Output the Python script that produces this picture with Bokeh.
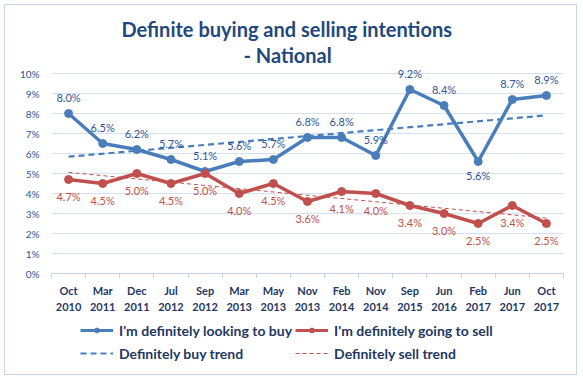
import numpy as np
from bokeh.plotting import figure
from bokeh.layouts import column
from bokeh.models import (ColumnDataSource, FixedTicker, LabelSet, Legend,
                          LegendItem, Range1d, Title)
from bokeh.core.properties import value
from bokeh.embed import file_html
from bokeh.resources import INLINE

# ---- data ----
months = ["Oct", "Mar", "Dec", "Jul", "Sep", "Mar", "May", "Nov", "Feb", "Nov",
          "Sep", "Jun", "Feb", "Jun", "Oct"]
years = ["2010", "2011", "2011", "2012", "2012", "2013", "2013", "2013", "2014",
         "2014", "2015", "2016", "2017", "2017", "2017"]
buy = [8.0, 6.5, 6.2, 5.7, 5.1, 5.6, 5.7, 6.8, 6.8, 5.9, 9.2, 8.4, 5.6, 8.7, 8.9]
sell = [4.7, 4.5, 5.0, 4.5, 5.0, 4.0, 4.5, 3.6, 4.1, 4.0, 3.4, 3.0, 2.5, 3.4, 2.5]
buy_labels_below = ["Feb 2017"]
y_ticks = [0, 1, 2, 3, 4, 5, 6, 7, 8, 9, 10]
y_tick_labels = ["0%", "1%", "2%", "3%", "4%", "5%", "6%", "7%", "8%", "9%", "10%"]

title_line1 = "Definite buying and selling intentions"
title_line2 = "- National"
legend_names = ["I'm definitely looking to buy", "I'm definitely going to sell",
                "Definitely buy trend", "Definitely sell trend"]

# ---- derived ----
n = len(buy)
cats = [f"{m} {y}" for m, y in zip(months, years)]
xc = [i + 0.5 for i in range(n)]
idx = np.arange(n)
bfit = np.polyfit(idx, buy, 1)
sfit = np.polyfit(idx, sell, 1)
trend_x = [xc[0], xc[-1]]
buy_trend = [float(np.polyval(bfit, 0)), float(np.polyval(bfit, n - 1))]
sell_trend = [float(np.polyval(sfit, 0)), float(np.polyval(sfit, n - 1))]

BLUE = "#4A7EBB"
RED = "#C0504D"
BLUE_TXT = "#2F5597"
NAVY = "#1F3864"
TITLE = "#1F497D"
GRID = "#D5E0F0"
AXIS = "#C3D3EA"
FONT = "Lato"

p = figure(width=571, height=313, x_range=Range1d(0, n), y_range=Range1d(0, 10.35),
           output_backend="svg", toolbar_location=None,
           min_border_left=46, min_border_right=13, min_border_top=61,
           min_border_bottom=45)
p.outline_line_color = None
p.background_fill_color = "white"
p.border_fill_color = "white"

# title (two lines)
p.title.text = title_line1
p.title.align = "left"
p.title.offset = 70
p.title.text_font = FONT
p.title.text_font_style = "bold"
p.title.text_font_size = "20px"
p.title.text_color = TITLE
p.title.standoff = 1
t2 = Title(text=title_line2, align="left", offset=192, text_font=FONT,
           text_font_style="bold", text_font_size="20px", text_color=TITLE,
           standoff=-1)
p.add_layout(t2, "above")

# axes
p.xaxis.ticker = FixedTicker(ticks=xc, minor_ticks=list(range(n + 1)))
p.xaxis.major_label_overrides = {x: f"{m}\n{y}" for x, m, y in zip(xc, months, years)}
p.xaxis.axis_line_color = AXIS
p.xaxis.major_tick_out = 0
p.xaxis.major_tick_in = 0
p.xaxis.minor_tick_out = 5
p.xaxis.minor_tick_in = 0
p.xaxis.minor_tick_line_color = AXIS
p.xaxis.major_label_text_font = FONT
p.xaxis.major_label_text_font_style = "bold"
p.xaxis.major_label_text_font_size = "11px"
p.xaxis.major_label_text_color = NAVY
p.xaxis.major_label_text_line_height = 1.25
p.xaxis.major_label_standoff = 5

p.yaxis.ticker = FixedTicker(ticks=y_ticks)
p.yaxis.major_label_overrides = {t: l for t, l in zip(y_ticks, y_tick_labels)}
p.yaxis.axis_line_color = None
p.yaxis.major_tick_out = 0
p.yaxis.major_tick_in = 0
p.yaxis.minor_tick_line_color = None
p.yaxis.major_label_text_font = FONT
p.yaxis.major_label_text_font_size = "10px"
p.yaxis.major_label_text_color = BLUE_TXT
p.yaxis.major_label_standoff = 12

p.xgrid.visible = False
p.ygrid.ticker = FixedTicker(ticks=y_ticks)
p.ygrid.grid_line_color = GRID

# series
line_styles = dict(
    buy_trend=dict(line_color=BLUE, line_width=2.2, line_dash="6 4"),
    sell_trend=dict(line_color=RED, line_width=1, line_dash="4 3"),
    buy=dict(line_color=BLUE, line_width=3.5),
    sell=dict(line_color=RED, line_width=3.5),
)
p.line(trend_x, buy_trend, **line_styles["buy_trend"])
p.line(trend_x, sell_trend, **line_styles["sell_trend"])
p.line(xc, buy, **line_styles["buy"])
p.scatter(xc, buy, size=8, fill_color=BLUE, line_color=BLUE)
p.line(xc, sell, **line_styles["sell"])
p.scatter(xc, sell, size=8, fill_color=RED, line_color=RED)

# data labels
def fmt(v):
    return f"{v:.1f}%"

above = ColumnDataSource(dict(
    x=[x for x, c in zip(xc, cats) if c not in buy_labels_below],
    y=[v for v, c in zip(buy, cats) if c not in buy_labels_below],
    t=[fmt(v) for v, c in zip(buy, cats) if c not in buy_labels_below]))
below = ColumnDataSource(dict(
    x=[x for x, c in zip(xc, cats) if c in buy_labels_below],
    y=[v for v, c in zip(buy, cats) if c in buy_labels_below],
    t=[fmt(v) for v, c in zip(buy, cats) if c in buy_labels_below]))
sellsrc = ColumnDataSource(dict(x=xc, y=sell, t=[fmt(v) for v in sell]))

common = dict(text_align="center", text_baseline="middle", text_font=value(FONT),
              text_font_size="11px")
p.add_layout(LabelSet(x="x", y="y", text="t", source=above, y_offset=16,
                      text_color=BLUE_TXT, **common))
p.add_layout(LabelSet(x="x", y="y", text="t", source=below, y_offset=-14,
                      text_color=BLUE_TXT, **common))
p.add_layout(LabelSet(x="x", y="y", text="t", source=sellsrc, y_offset=-17,
                      text_color=RED, **common))

# ---- legend strip (its renderers lie outside its visible range) ----
lf = figure(width=571, height=56, x_range=Range1d(0, 1), y_range=Range1d(0, 1),
            output_backend="svg", toolbar_location=None,
            x_axis_type=None, y_axis_type=None, min_border=0)
lf.outline_line_color = None
lf.grid.visible = False
lf.border_fill_color = "white"
r_bl = lf.line(xc, buy, line_color=BLUE, line_width=3)
r_bs = lf.scatter(xc, buy, size=6, fill_color=BLUE, line_color=BLUE)
r_sl = lf.line(xc, sell, line_color=RED, line_width=3)
r_ss = lf.scatter(xc, sell, size=6, fill_color=RED, line_color=RED)
r_bt = lf.line(trend_x, buy_trend, **line_styles["buy_trend"])
r_st = lf.line(trend_x, sell_trend, **line_styles["sell_trend"])

legend = Legend(items=[
    LegendItem(label=legend_names[0], renderers=[r_bl, r_bs]),
    LegendItem(label=legend_names[1], renderers=[r_sl, r_ss]),
    LegendItem(label=legend_names[2], renderers=[r_bt]),
    LegendItem(label=legend_names[3], renderers=[r_st]),
], location=(29, 11), orientation="horizontal", ncols=2,
    border_line_color=None, background_fill_alpha=0, padding=0, margin=0,
    spacing=3, glyph_width=33, glyph_height=12, label_height=20,
    label_standoff=6, label_text_font=FONT, label_text_font_style="bold",
    label_text_font_size="14px", label_text_color=NAVY)
lf.add_layout(legend)

layout = column(p, lf, spacing=0, margin=(4, 0, 0, 4),
                styles={"border": "1px solid #C9D6EA"})
open("out.html", "w").write(file_html(layout, INLINE))
